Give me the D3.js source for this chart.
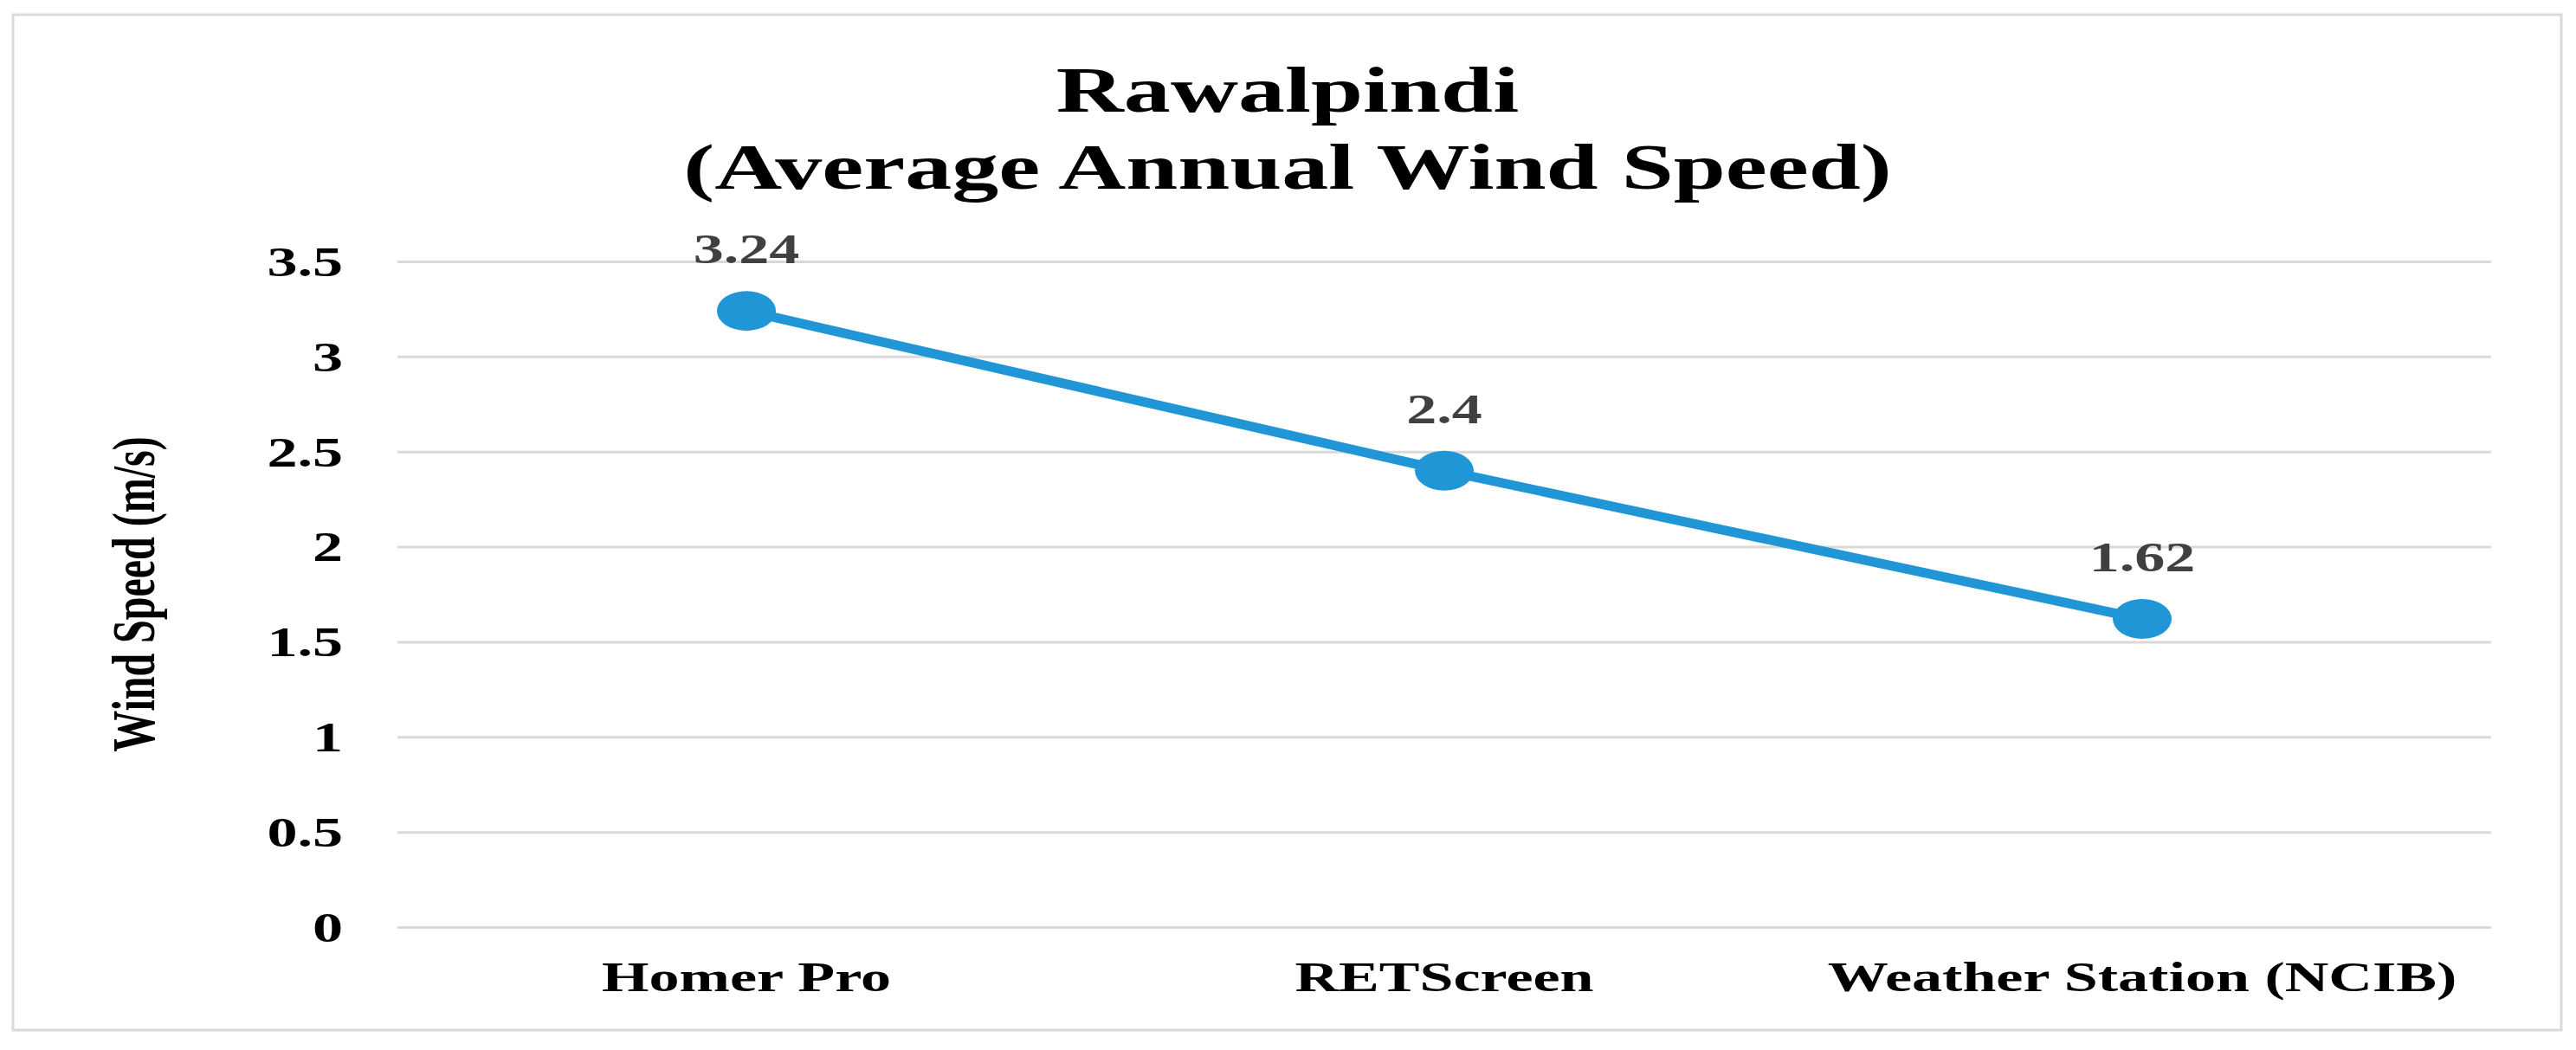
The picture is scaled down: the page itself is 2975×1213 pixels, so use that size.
<!DOCTYPE html>
<html>
<head>
<meta charset="utf-8">
<script src="https://cdn.jsdelivr.net/npm/d3@7"></script>
<style>
  html, body { margin: 0; padding: 0; background: #ffffff; }
  svg { display: block; }
</style>
</head>
<body>
<svg id="chart" width="2975" height="1213"></svg>
<script>
// ---- data ----
const categories = ["Homer Pro", "RETScreen", "Weather Station (NCIB)"];
const windSpeed = [3.24, 2.4, 1.62];
const dataLabels = ["3.24", "2.4", "1.62"];
const yTicks = [0, 0.5, 1, 1.5, 2, 2.5, 3, 3.5];
const yTickLabels = ["0", "0.5", "1", "1.5", "2", "2.5", "3", "3.5"];
const titleLines = ["Rawalpindi", "(Average Annual Wind Speed)"];
const yAxisTitle = "Wind Speed (m/s)";

// ---- layout ----
const W = 2975, H = 1213;
const SX = 1.46; // horizontal stretch of the reference picture
const plot = { left: 459, right: 2877, top: 302, bottom: 1071 };
const font = "'Liberation Serif', 'Times New Roman', serif";
const blue = "#2196D6";
const grid = "#D9D9D9";

const svg = d3.select("#chart");
svg.append("rect").attr("x", 0).attr("y", 0).attr("width", W).attr("height", H).attr("fill", "#fff");

// outer border
svg.append("rect")
  .attr("x", 15).attr("y", 17)
  .attr("width", 2958 - 15).attr("height", 1190 - 17)
  .attr("fill", "none").attr("stroke", grid).attr("stroke-width", 3);

const x = d3.scaleBand().domain(categories).range([plot.left, plot.right]).padding(0);
const cx = c => x(c) + x.bandwidth() / 2;
const y = d3.scaleLinear().domain([0, 3.5]).range([plot.bottom, plot.top]);

// y axis with gridlines
const yAxis = d3.axisLeft(y)
  .tickValues(yTicks)
  .tickFormat((d, i) => yTickLabels[i])
  .tickSize(-(plot.right - plot.left));
const gy = svg.append("g").attr("transform", `translate(${plot.left},0)`).call(yAxis);
gy.select(".domain").remove();
gy.selectAll(".tick line").attr("stroke", grid).attr("stroke-width", 3);
gy.selectAll(".tick text")
  .attr("x", 0).attr("dy", "0.34em")
  .attr("transform", `translate(${396 - plot.left},0) scale(${SX},1)`)
  .attr("text-anchor", "end")
  .attr("font-family", font).attr("font-weight", "bold")
  .attr("font-size", 48).attr("fill", "#000");

// x axis labels
const xAxis = d3.axisBottom(x).tickSize(0);
const gx = svg.append("g").attr("transform", `translate(0,${plot.bottom})`).call(xAxis);
gx.select(".domain").remove();
gx.selectAll(".tick text")
  .attr("y", 0).attr("dy", 0)
  .attr("transform", `translate(0,${1145 - plot.bottom}) scale(${SX},1)`)
  .attr("text-anchor", "middle")
  .attr("font-family", font).attr("font-weight", "bold")
  .attr("font-size", 48).attr("fill", "#000");

// line
const pts = categories.map((c, i) => ({ c, v: windSpeed[i], label: dataLabels[i] }));
svg.append("path")
  .datum(pts)
  .attr("d", d3.line().x(d => cx(d.c)).y(d => y(d.v)))
  .attr("fill", "none").attr("stroke", blue).attr("stroke-width", 11)
  .attr("stroke-linejoin", "round");

// markers
svg.selectAll("ellipse.marker").data(pts).join("ellipse")
  .attr("class", "marker")
  .attr("cx", d => cx(d.c)).attr("cy", d => y(d.v))
  .attr("rx", 34).attr("ry", 23)
  .attr("fill", blue);

// data labels
svg.selectAll("text.dlabel").data(pts).join("text")
  .attr("class", "dlabel")
  .attr("transform", d => `translate(${cx(d.c)},${y(d.v) - 55}) scale(${SX},1)`)
  .attr("text-anchor", "middle")
  .attr("font-family", font).attr("font-weight", "bold")
  .attr("font-size", 48).attr("fill", "#404040")
  .text(d => d.label);

// title
svg.selectAll("text.title").data(titleLines).join("text")
  .attr("class", "title")
  .attr("transform", (d, i) => `translate(1487,${[129, 218][i]}) scale(${SX},1)`)
  .attr("text-anchor", "middle")
  .attr("font-family", font).attr("font-weight", "bold")
  .attr("font-size", 74).attr("fill", "#000")
  .text(d => d);

// y axis title
svg.append("text")
  .attr("transform", `translate(178,${(plot.top + plot.bottom) / 2}) scale(${SX},1) rotate(-90)`)
  .attr("text-anchor", "middle")
  .attr("font-family", font).attr("font-weight", "bold")
  .attr("font-size", 48).attr("fill", "#000")
  .text(yAxisTitle);
</script>
</body>
</html>
